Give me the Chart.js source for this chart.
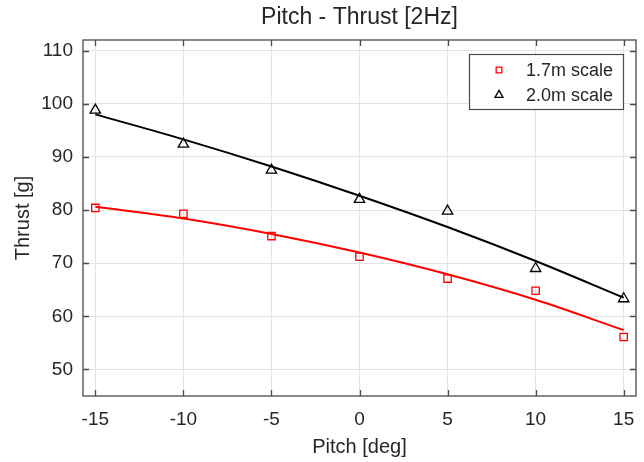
<!DOCTYPE html>
<html>
<head>
<meta charset="utf-8">
<script src="https://cdn.jsdelivr.net/npm/chart.js@4"></script>
<style>
  body { margin: 0; background: #fff; }
  canvas { display: block; }
</style>
</head>
<body>
<canvas id="thrustChart" width="644" height="462"></canvas>
<script>
// measured points
const pitch = [-15, -10, -5, 0, 5, 10, 15];
const thrust17 = [80.4, 79.3, 75.1, 71.2, 67.1, 64.8, 56.1];
const thrust20 = [98.8, 92.4, 87.5, 82.0, 79.8, 69.0, 63.3];
// fitted curves at the same pitch values
const fit17 = [80.6, 78.4, 75.5, 72.0, 67.9, 63.1, 57.4];
const fit20 = [98.0, 93.3, 88.2, 82.7, 76.8, 70.4, 63.5];
const seriesNames = ['1.7m scale', '2.0m scale'];

const FONT = '"Liberation Sans", Arial, sans-serif';
const TXT = '#262626';

function pts(ys) {
    return pitch.map((x, i) => ({ x: x, y: ys[i] }));
}

// box, inward ticks and legend in matlab style
const matlabAxes = {
    id: 'matlabAxes',
    afterDatasetsDraw(chart) {
        const { ctx, chartArea: a, scales } = chart;
        const tl = 6;
        ctx.save();
        ctx.strokeStyle = '#4a4a4a';
        ctx.lineWidth = 1.3;
        ctx.strokeRect(a.left, a.top, a.right - a.left, a.bottom - a.top);
        ctx.beginPath();
        scales.x.ticks.forEach(t => {
            const px = Math.round(scales.x.getPixelForValue(t.value)) + 0.5;
            ctx.moveTo(px, a.bottom); ctx.lineTo(px, a.bottom - tl);
            ctx.moveTo(px, a.top); ctx.lineTo(px, a.top + tl);
        });
        scales.y.ticks.forEach(t => {
            const py = Math.round(scales.y.getPixelForValue(t.value)) + 0.5;
            ctx.moveTo(a.left, py); ctx.lineTo(a.left + tl, py);
            ctx.moveTo(a.right, py); ctx.lineTo(a.right - tl, py);
        });
        ctx.stroke();
        ctx.restore();
    },
    afterDraw(chart) {
        const ctx = chart.ctx;
        const a = chart.chartArea;
        const bx = a.right - 167, by = a.top + 14, bw = 154, bh = 55;
        ctx.save();
        ctx.fillStyle = '#fff';
        ctx.fillRect(bx, by, bw, bh);
        ctx.strokeStyle = '#4a4a4a';
        ctx.lineWidth = 1.2;
        ctx.strokeRect(bx + 0.5, by + 0.5, bw, bh);
        ctx.font = '18px ' + FONT;
        ctx.textBaseline = 'middle';
        ctx.fillStyle = TXT;
        [0, 1].forEach(i => {
            const ds = chart.data.datasets[i];
            const cy = by + 16 + i * 25;
            ctx.strokeStyle = ds.borderColor;
            ctx.fillStyle = 'rgba(0,0,0,0)';
            ctx.lineWidth = ds.borderWidth;
            Chart.helpers.drawPoint(ctx, {
                pointStyle: ds.pointStyle,
                radius: i === 0 ? 4 : 4.6,
                rotation: 0,
                borderWidth: ds.borderWidth
            }, bx + 30, cy);
            ctx.fillStyle = TXT;
            ctx.fillText(ds.label, bx + 57, cy + 1);
        });
        ctx.restore();
    }
};

const ctx = document.getElementById('thrustChart').getContext('2d');

const thrustChart = new Chart(ctx, {
    type: 'scatter',
    data: {
        datasets: [
            {
                label: seriesNames[0],
                data: pts(thrust17),
                showLine: false,
                pointStyle: 'rect',
                pointRadius: 5.2,
                borderColor: '#ff0000',
                backgroundColor: 'rgba(0,0,0,0)',
                borderWidth: 1.3
            },
            {
                label: seriesNames[1],
                data: pts(thrust20),
                showLine: false,
                pointStyle: 'triangle',
                pointRadius: 6,
                borderColor: '#000000',
                backgroundColor: 'rgba(0,0,0,0)',
                borderWidth: 1.3
            },
            {
                label: 'fit 1.7m',
                data: pts(fit17),
                showLine: true,
                pointRadius: 0,
                borderColor: '#ff0000',
                borderWidth: 2,
                cubicInterpolationMode: 'monotone'
            },
            {
                label: 'fit 2.0m',
                data: pts(fit20),
                showLine: true,
                pointRadius: 0,
                borderColor: '#000000',
                borderWidth: 2,
                cubicInterpolationMode: 'monotone'
            }
        ]
    },
    options: {
        responsive: false,
        animation: false,
        events: [],
        layout: { padding: { left: 0, right: 8, top: 0, bottom: 0 } },
        plugins: {
            legend: { display: false },
            tooltip: { enabled: false },
            title: {
                display: true,
                fullSize: false,
                text: 'Pitch - Thrust [2Hz]',
                color: TXT,
                font: { family: FONT, size: 23, weight: 'normal', lineHeight: 1.2 },
                padding: { top: 3.7, bottom: 8.7 }
            }
        },
        scales: {
            x: {
                type: 'linear',
                min: -15.7,
                max: 15.7,
                afterFit(scale) {
                    scale.height = 66;
                    scale.paddingLeft = 0;
                    scale.paddingRight = 0;
                },
                ticks: {
                    stepSize: 5,
                    includeBounds: false,
                    color: TXT,
                    padding: 12,
                    maxRotation: 0,
                    font: { family: FONT, size: 19 }
                },
                grid: { color: '#e3e3e3', drawTicks: false },
                border: { display: false },
                title: {
                    display: true,
                    text: 'Pitch [deg]',
                    color: TXT,
                    font: { family: FONT, size: 20, lineHeight: 1.2 },
                    padding: { top: 0, bottom: 3 }
                }
            },
            y: {
                type: 'linear',
                min: 45,
                max: 112,
                afterFit(scale) { scale.width = 83; },
                ticks: {
                    stepSize: 10,
                    includeBounds: false,
                    color: TXT,
                    padding: 10,
                    font: { family: FONT, size: 19 }
                },
                grid: { color: '#e3e3e3', drawTicks: false },
                border: { display: false },
                title: {
                    display: true,
                    text: 'Thrust [g]',
                    color: TXT,
                    font: { family: FONT, size: 20, lineHeight: 1.2 },
                    padding: { top: 11, bottom: 0 }
                }
            }
        }
    },
    plugins: [matlabAxes]
});
</script>
</body>
</html>
